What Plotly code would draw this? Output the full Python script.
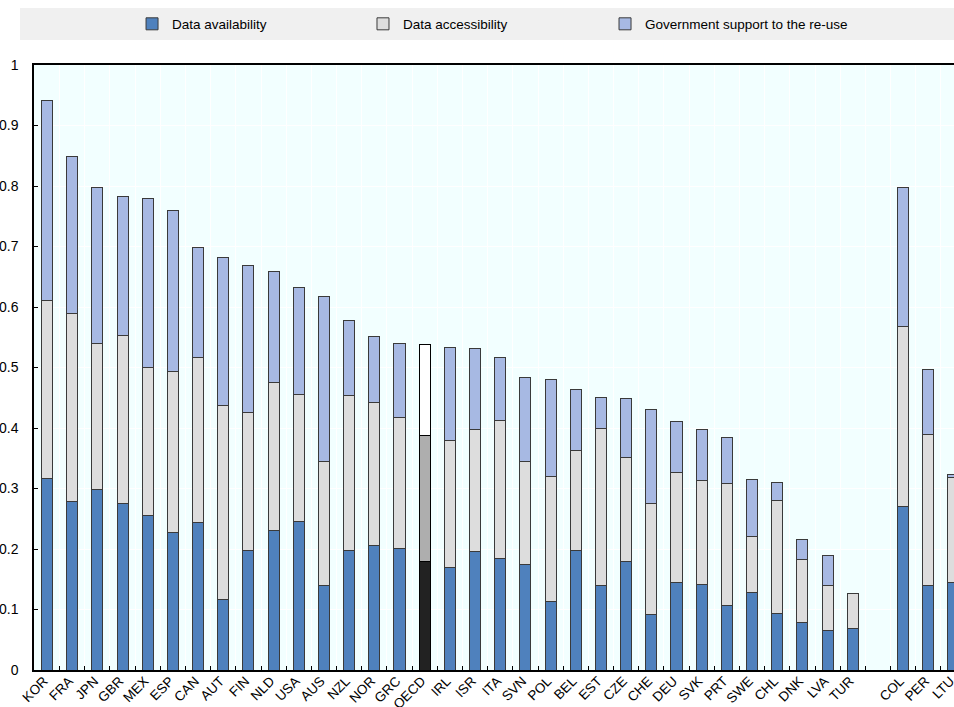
import plotly.graph_objects as go

countries = ["KOR", "FRA", "JPN", "GBR", "MEX", "ESP", "CAN", "AUT", "FIN", "NLD",
             "USA", "AUS", "NZL", "NOR", "GRC", "OECD", "IRL", "ISR", "ITA", "SVN",
             "POL", "BEL", "EST", "CZE", "CHE", "DEU", "SVK", "PRT", "SWE", "CHL",
             "DNK", "LVA", "TUR", " ", "COL", "PER", "LTU"]

availability = [0.317, 0.278, 0.298, 0.275, 0.255, 0.228, 0.244, 0.117, 0.197, 0.231,
                0.246, 0.140, 0.198, 0.206, 0.201, 0.179, 0.170, 0.196, 0.185, 0.174,
                0.114, 0.197, 0.140, 0.180, 0.092, 0.145, 0.142, 0.107, 0.128, 0.093,
                0.078, 0.066, 0.069, None, 0.271, 0.140, 0.145]

accessibility = [0.293, 0.312, 0.241, 0.278, 0.245, 0.266, 0.273, 0.321, 0.229, 0.244,
                 0.210, 0.205, 0.255, 0.236, 0.217, 0.208, 0.209, 0.202, 0.228, 0.171,
                 0.206, 0.166, 0.260, 0.172, 0.183, 0.181, 0.172, 0.202, 0.092, 0.188,
                 0.104, 0.073, 0.057, None, 0.296, 0.250, 0.173]

gov_support = [0.332, 0.258, 0.259, 0.229, 0.280, 0.266, 0.182, 0.244, 0.243, 0.183,
               0.177, 0.272, 0.124, 0.110, 0.121, 0.151, 0.154, 0.133, 0.104, 0.138,
               0.160, 0.100, 0.051, 0.097, 0.155, 0.085, 0.084, 0.075, 0.095, 0.029,
               0.033, 0.051, 0.000, None, 0.231, 0.106, 0.005]

series_names = ["Data availability", "Data accessibility", "Government support to the re-use"]
highlight = "OECD"

base_colors = ["#4F81BD", "#DDDDDD", "#A7B9E3"]
oecd_colors = ["#222222", "#AEAEAE", "#FFFFFF"]
legend_ids = ["legend", "legend2", "legend3"]
legend_x = [0.1384, 0.3805, 0.6342]

FONT = "Liberation Sans Narrow, Arial Narrow, Liberation Sans, Arial, sans-serif"

fig = go.Figure()
for name, vals, bc, oc, lid in zip(series_names, [availability, accessibility, gov_support],
                                   base_colors, oecd_colors, legend_ids):
    colors = [oc if c == highlight else bc for c in countries]
    lines = ["#000000" if c == highlight else "#3A3A3A" for c in countries]
    fig.add_trace(go.Bar(
        x=countries, y=vals, name=name, width=0.44, legend=lid,
        marker=dict(color=colors, line=dict(color=lines, width=1)),
    ))

fig.add_shape(type="rect", xref="paper", yref="paper",
              x0=-0.0152, x1=1.0, y0=1.0413, y1=1.0942,
              fillcolor="#F0F0F0", line=dict(width=0), layer="below")

legend_common = dict(orientation="h", xref="container", yref="container",
                     xanchor="left", y=0.966, yanchor="middle",
                     bgcolor="rgba(0,0,0,0)",
                     font=dict(family=FONT, size=13.5))

fig.update_layout(
    width=954, height=707,
    margin=dict(l=34, r=0, t=65, b=37, autoexpand=False),
    barmode="stack",
    paper_bgcolor="#FFFFFF",
    plot_bgcolor="#F2FFFF",
    font=dict(family=FONT, size=12, color="#000000"),
    showlegend=True,
    legend=dict(x=legend_x[0], **legend_common),
    legend2=dict(x=legend_x[1], **legend_common),
    legend3=dict(x=legend_x[2], **legend_common),
    xaxis=dict(
        type="category", categoryorder="array", categoryarray=countries,
        range=[-0.516, 36.02], automargin=False,
        tickangle=-45, tickfont=dict(family=FONT, size=13.5),
        ticklabelstandoff=-4, ticklabelshift=-3,
        ticks="inside", ticklen=4, tickwidth=1, tickcolor="#000000",
        tickson="boundaries",
        showgrid=True, gridcolor="#FFFFFF", gridwidth=1,
        showline=True, linecolor="#000000", linewidth=2, mirror=True,
        zeroline=False,
    ),
    yaxis=dict(
        range=[0, 1], dtick=0.1, tick0=0, automargin=False,
        ticks="inside", ticklen=4, tickwidth=1, tickcolor="#000000",
        tickfont=dict(family=FONT, size=14), ticklabelstandoff=11,
        showgrid=True, gridcolor="#FFFFFF", gridwidth=1,
        showline=True, linecolor="#000000", linewidth=1.5,
        zeroline=False,
    ),
)

fig.write_html("out.html", config={"displayModeBar": False},
               post_script="document.body.style.margin='0';")
